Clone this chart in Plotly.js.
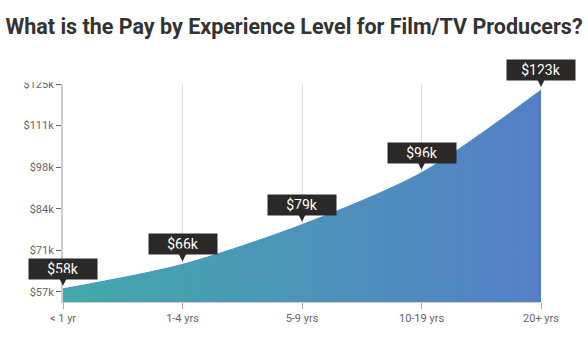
<!DOCTYPE html>
<html>
<head>
<meta charset="utf-8">
<script src="https://cdn.plot.ly/plotly-3.0.1.min.js"></script>
<style>html,body{margin:0;padding:0;background:#fff;}#chart{width:588px;height:352px;}</style>
</head>
<body>
<div id="chart"></div>
<script>
const categories = ["< 1 yr", "1-4 yrs", "5-9 yrs", "10-19 yrs", "20+ yrs"];
const payValues = [58, 66, 79, 96, 123];
const payLabels = ["$58k", "$66k", "$79k", "$96k", "$123k"];
const yTickVals = [57, 70.6, 84.2, 97.8, 111.4, 125];
const yTickText = ["$57k", "$71k", "$84k", "$98k", "$111k", "$125k"];

const xIdx = categories.map((c, i) => i);

const trace = {
  x: xIdx,
  y: payValues,
  type: 'scatter',
  mode: 'lines',
  line: {shape: 'spline', smoothing: 0.8, color: '#4a8cc0', width: 1},
  fill: 'tozeroy',
  fillgradient: {type: 'horizontal', colorscale: [[0, '#43a9aa'], [1, '#547fc8']]},
  hoverinfo: 'skip'
};

const annotations = xIdx.map((xi, i) => ({
  x: xi, y: payValues[i], xref: 'x', yref: 'y',
  text: payLabels[i],
  showarrow: true, ax: 0, ay: -20,
  arrowhead: 2, arrowsize: 1.3, arrowwidth: 2, arrowcolor: '#2b2828', standoff: 3,
  bgcolor: '#2b2828', borderpad: 2, width: 64, height: 16,
  font: {family: 'Roboto, sans-serif', size: 14, color: '#ffffff', weight: 400}
}));

const layout = {
  width: 588, height: 352,
  margin: {l: 63, r: 47, t: 84, b: 50},
  paper_bgcolor: '#ffffff', plot_bgcolor: '#ffffff',
  font: {family: 'Roboto, sans-serif'},
  showlegend: false,
  title: {
    text: 'What is the Pay by Experience Level for Film/TV Producers?',
    font: {family: 'Roboto, sans-serif', size: 21.5, color: '#333333', weight: 700},
    x: 0.5, xanchor: 'center', xref: 'container',
    y: 0.926, yanchor: 'middle', yref: 'container'
  },
  xaxis: {
    range: [0, 4], tickvals: xIdx, ticktext: categories,
    showgrid: true, gridcolor: 'rgba(0,0,0,0.13)', gridwidth: 1,
    layer: 'above traces',
    ticks: 'outside', ticklen: 6, tickcolor: '#aaaaaa',
    showline: true, linecolor: '#cccccc', linewidth: 1,
    zeroline: false, fixedrange: true,
    tickfont: {family: 'Roboto, sans-serif', size: 11, color: '#666666'}
  },
  yaxis: {
    range: [53.7, 125], tickvals: yTickVals, ticktext: yTickText,
    showgrid: false, zeroline: false,
    ticks: 'outside', ticklen: 5, tickcolor: '#666666',
    showline: true, linecolor: '#cccccc', linewidth: 2,
    fixedrange: true,
    tickfont: {family: 'Roboto, sans-serif', size: 11, color: '#666666'}
  },
  shapes: [{
    type: 'rect', xref: 'paper', yref: 'paper', layer: 'above',
    x0: -0.14, x1: -0.006, y0: 1.008, y1: 1.12,
    fillcolor: '#ffffff', line: {width: 0}
  }],
  annotations: annotations
};

Plotly.newPlot('chart', [trace], layout, {displayModeBar: false, staticPlot: true});
</script>
</body>
</html>
